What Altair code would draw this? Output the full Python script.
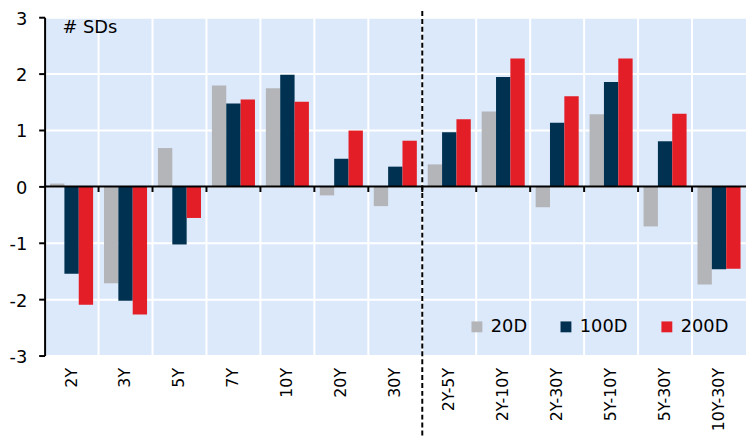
import altair as alt
import pandas as pd

categories = ["2Y", "3Y", "5Y", "7Y", "10Y", "20Y", "30Y",
              "2Y-5Y", "2Y-10Y", "2Y-30Y", "5Y-10Y", "5Y-30Y", "10Y-30Y"]
series_names = ["20D", "100D", "200D"]
v20 = [0.05, -1.72, 0.68, 1.79, 1.74, -0.16, -0.35, 0.39, 1.33, -0.37, 1.28, -0.71, -1.74]
v100 = [-1.55, -2.03, -1.03, 1.47, 1.98, 0.49, 0.35, 0.96, 1.94, 1.13, 1.85, 0.80, -1.47]
v200 = [-2.10, -2.27, -0.56, 1.54, 1.50, 0.99, 0.81, 1.19, 2.27, 1.60, 2.27, 1.29, -1.46]
colors = ["#b4b5b9", "#003150", "#e41e26"]
y_ticks = [-3, -2, -1, 0, 1, 2, 3]

rows = []
for name, vals in zip(series_names, [v20, v100, v200]):
    for c, v in zip(categories, vals):
        rows.append({"cat": c, "series": name, "value": v})
df = pd.DataFrame(rows)
cat_df = pd.DataFrame({"cat": categories[1:]})
one = pd.DataFrame({"a": [0]})

FONT = "DejaVu Sans"
W, H = 709, 342

xscale = alt.Scale(domain=categories, paddingInner=0, paddingOuter=0)
yscale = alt.Scale(domain=[-3, 3], nice=False)

xaxis = alt.Axis(title=None, domain=False, ticks=False, grid=False, labelAngle=-90,
                 labelFontSize=16, labelFont=FONT, labelColor="black", labelPadding=12)
yaxis = alt.Axis(title=None, values=y_ticks, labelExpr="'' + datum.value", grid=True,
                 gridColor="white", gridWidth=2, domainColor="black", domainWidth=2,
                 tickColor="black", tickWidth=2, tickSize=6, labelFontSize=18,
                 labelFont=FONT, labelColor="black", labelPadding=12, labelOffset=2)

vgrid = alt.Chart(cat_df).mark_rule(color="white", strokeWidth=2).encode(
    x=alt.X("cat:N", bandPosition=0, scale=xscale, axis=xaxis, sort=categories),
    y=alt.datum(3, scale=yscale, axis=yaxis),
    y2=alt.datum(-3),
)

bars = alt.Chart(df).mark_bar().encode(
    x=alt.X("cat:N", scale=xscale, sort=categories),
    xOffset=alt.XOffset("series:N", sort=series_names,
                        scale=alt.Scale(domain=series_names, paddingInner=0, paddingOuter=0.38)),
    y=alt.Y("value:Q", scale=yscale),
    color=alt.Color("series:N", sort=series_names,
                    scale=alt.Scale(domain=series_names, range=colors),
                    legend=alt.Legend(title=None, orient="none", legendX=428, legendY=304,
                                      direction="horizontal", symbolType="square",
                                      symbolSize=121, symbolStrokeWidth=0,
                                      labelFontSize=18, labelFont=FONT, labelColor="black",
                                      columnPadding=30, labelOffset=5, padding=0)),
)

zero = alt.Chart(one).mark_rule(color="black", strokeWidth=2).encode(y=alt.datum(0))

zticks = alt.Chart(cat_df).mark_rule(color="black", strokeWidth=2).encode(
    x=alt.X("cat:N", bandPosition=0, sort=categories),
    y=alt.datum(0),
    y2=alt.datum(-0.1),
)

dashed = alt.Chart(one).mark_rule(color="black", strokeWidth=2, strokeDash=[5, 3]).encode(
    x=alt.datum("2Y-5Y", bandPosition=0),
    y=alt.datum(3.25),
    y2=alt.datum(-4.6),
)

label = alt.Chart(one).mark_text(text="# SDs", align="left", baseline="middle",
                                 fontSize=18, font=FONT, color="black", dx=18).encode(
    x=alt.datum("2Y", bandPosition=0),
    y=alt.datum(2.8),
)

chart = alt.layer(vgrid, bars, zero, zticks, dashed, label).properties(
    width=W, height=H,
    autosize=alt.AutoSizeParams(type="none"),
    padding={"left": 37, "top": 7, "right": 0, "bottom": 79},
).configure_view(fill="#dce9fb", stroke=None)

chart.save("out.html", embed_options={"renderer": "svg", "actions": False})
